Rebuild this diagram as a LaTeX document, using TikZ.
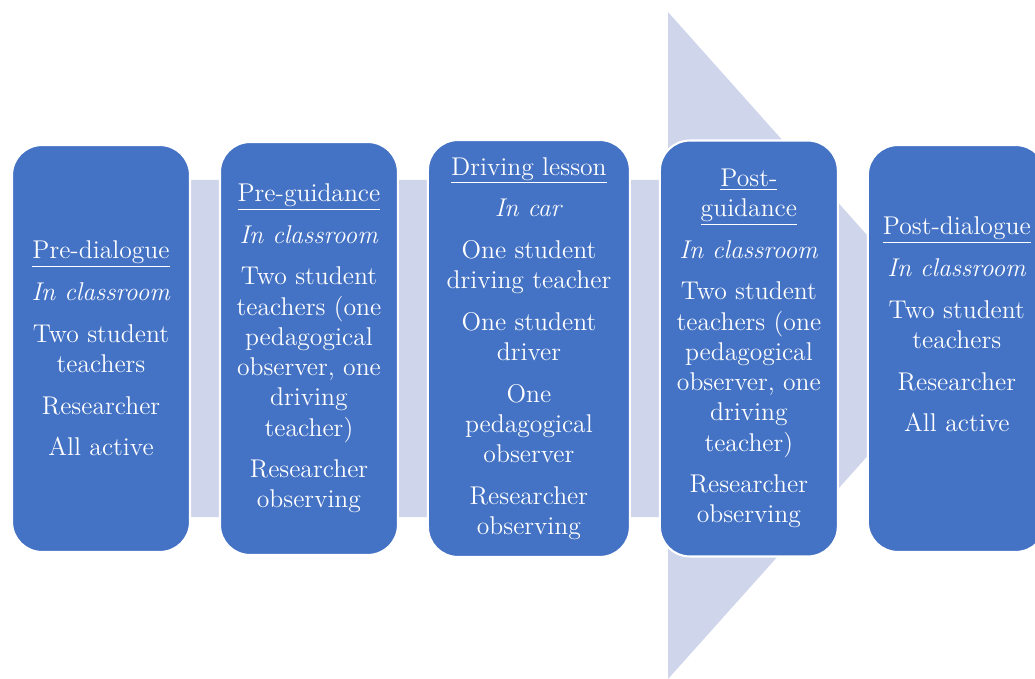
\documentclass[tikz,border=0pt]{standalone}
\usepackage{tikz}
\usetikzlibrary{positioning}
\definecolor{phaseblue}{RGB}{68,114,196}
\definecolor{flowlav}{RGB}{207,213,234}
\newcommand{\gap}{\\[6.5pt]}

\begin{document}
\begin{tikzpicture}[
			x=0.02cm, y=-0.02cm,
			node distance=0.6cm,
			every node/.style={font=\fontsize{14.6}{17.2}\selectfont},
			phase/.style={rectangle, rounded corners=0.6cm, draw=white, line width=1.2pt, outer sep=0pt, fill=phaseblue, text=white, minimum width=3.56cm, minimum height=8.2cm, align=center, inner sep=0pt}
			]
			\useasboundingbox (0,0) rectangle (1035,679);
			\clip (0,0) rectangle (1035,679);
			
			% Background arrow
			\fill[flowlav] (100,180) -- (668,180) -- (668,12) -- (966,346) -- (668,679) -- (668,517) -- (100,517) -- cycle;
			
			% Phases
			\node[phase, minimum height=8.14cm] (predialogue) at (101,348.5) {\underline{Pre-dialogue}\gap\textit{In classroom}\gap Two student\\teachers\gap Researcher\gap All active};
			
			\node[phase, minimum height=8.26cm, right=of predialogue] (preguidance) {\underline{Pre-guidance}\gap\textit{In classroom}\gap Two student\\teachers (one\\pedagogical\\observer, one\\driving\\teacher)\gap Researcher\\observing};
			
			\node[phase, minimum width=4.04cm, minimum height=8.34cm, right=of preguidance] (lesson) {\underline{Driving lesson}\gap\textit{In car}\gap One student\\driving teacher\gap One student\\driver\gap One\\pedagogical\\observer\gap Researcher\\observing};
			
			\node[phase, minimum height=8.32cm, right=of lesson] (postguidance) {\underline{Post-}\\\underline{guidance}\gap\textit{In classroom}\gap Two student\\teachers (one\\pedagogical\\observer, one\\driving\\teacher)\gap Researcher\\observing};
			
			\node[phase, minimum height=8.14cm, right=of postguidance] (postdialogue) {\underline{Post-dialogue}\gap\textit{In classroom}\gap Two student\\teachers\gap Researcher\gap All active\\[0.36cm]\mbox{}};
			
		\end{tikzpicture}
\end{document}
